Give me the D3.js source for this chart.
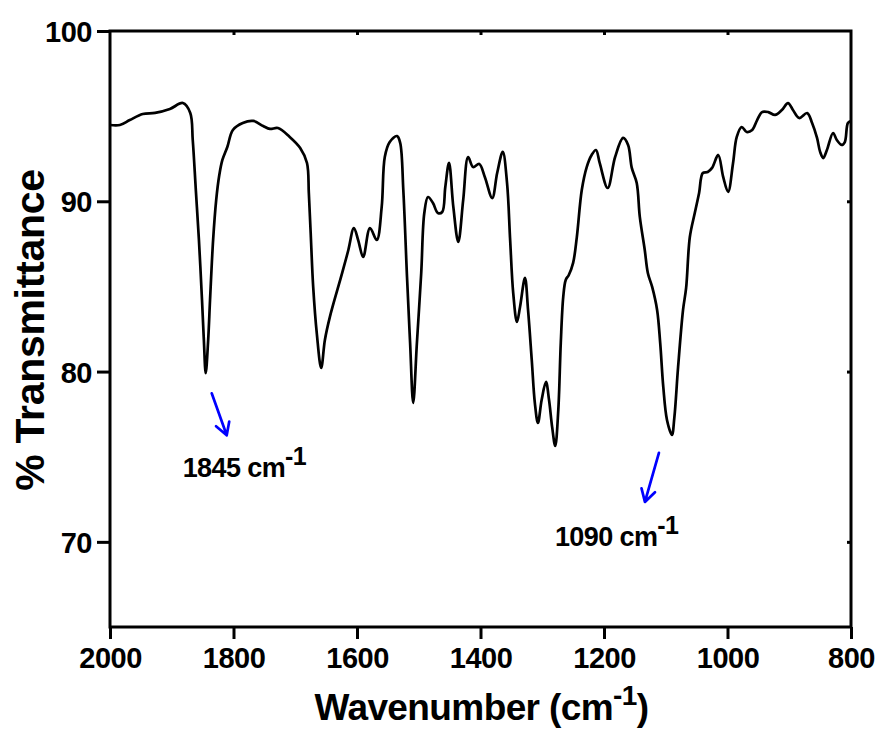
<!DOCTYPE html>
<html>
<head>
<meta charset="utf-8">
<script src="https://cdn.jsdelivr.net/npm/d3@7"></script>
<style>
  body { margin: 0; background: #fff; }
  text { font-family: "Liberation Sans", Arial, Helvetica, sans-serif; font-weight: bold; fill: #000; }
</style>
</head>
<body>
<svg id="chart" width="881" height="730"></svg>
<script>
// FTIR spectrum: wavenumber (cm-1) and % transmittance
const wavenumber = [
  2000, 1984, 1968, 1947, 1927, 1903, 1882, 1870, 1866, 1861, 1856, 1851, 1848, 1845, 1841, 1838,
  1833, 1828, 1823, 1818, 1810, 1801, 1785, 1768, 1752, 1741, 1728, 1709, 1692, 1681, 1678, 1675, 1671,
  1665, 1658, 1652, 1644, 1624, 1614, 1605, 1598, 1590, 1579, 1568, 1560, 1555, 1547, 1535, 1530,
  1525, 1519, 1514, 1509, 1503, 1496, 1491, 1485, 1477, 1469, 1462, 1457, 1451, 1444, 1436, 1428,
  1420, 1412, 1402, 1393, 1381, 1373, 1364, 1357, 1352, 1347, 1341, 1336, 1328, 1323, 1317, 1312,
  1307, 1301, 1294, 1289, 1284, 1279, 1274, 1270, 1266, 1262, 1257, 1250, 1244, 1236, 1228, 1220,
  1213, 1207, 1194, 1182, 1169, 1161, 1155, 1147, 1142, 1134, 1129, 1122, 1114, 1109, 1104, 1098,
  1090, 1086, 1080, 1072, 1067, 1061, 1053, 1046, 1040, 1032, 1025, 1015, 1007, 999, 991, 985,
  977, 969, 960, 952, 944, 934, 923, 912, 902, 894, 884, 871, 863, 855, 850, 845,
  839, 829, 823, 815, 810, 805, 800
];
const transmittance = [
  94.48, 94.48, 94.77, 95.13, 95.19, 95.42, 95.77, 95.19, 93.6, 90.66, 87.73, 84.2, 81.86, 79.9, 81.86, 84.2,
  87.73, 90.08, 91.54, 92.43, 93.19, 94.19, 94.6, 94.72, 94.42, 94.25, 94.3, 93.78, 93.13, 92.25, 90.49, 88.14, 85.0,
  82.2, 80.21, 81.86, 83.2, 85.79, 87.14, 88.43, 87.7, 86.73, 88.43, 87.73, 89.67, 92.6, 93.48, 93.83, 93.42,
  90.66, 85.55, 81.68, 78.16, 81.68, 85.79, 89.31, 90.25, 89.9, 89.31, 89.37, 90.84, 92.25, 89.67, 87.61, 90.08,
  92.6, 92.01, 92.19, 91.43, 90.19, 91.66, 92.9, 91.07, 87.73, 84.6, 82.91, 83.79, 85.5, 83.62, 80.68, 78.16,
  76.98, 78.33, 79.39, 78.33, 76.75, 75.63, 77.75, 81.68, 84.38, 85.38, 85.67, 86.38, 87.9, 90.66, 92.01, 92.72,
  93.01, 92.25, 90.78, 92.6, 93.72, 93.31, 91.96, 91.07, 89.08, 87.14, 85.79, 84.97, 83.62, 81.68, 79.1, 77.16,
  76.28, 77.33, 80.27, 83.62, 84.91, 87.9, 89.31, 90.49, 91.66, 91.72, 91.96, 92.72, 91.43, 90.55, 92.25, 93.78,
  94.36, 94.07, 94.19, 94.77, 95.24, 95.24, 95.07, 95.36, 95.77, 95.36, 94.89, 95.18, 94.6, 93.72, 92.9, 92.54,
  93.01, 94.01, 93.6, 93.31, 93.48, 94.6, 94.72
];
const xTickValues = [2000, 1800, 1600, 1400, 1200, 1000, 800];
const yTickValues = [100, 90, 80, 70];
const peakPositions = [1845, 1090];
const peakLabels = ["1845", "1090"];

const svg = d3.select("#chart");
const plot = { left: 110, right: 851, top: 31, bottom: 627 };

const x = d3.scaleLinear().domain([2000, 800]).range([plot.left, plot.right]);
const y = d3.scaleLinear().domain([65, 100]).range([plot.bottom, plot.top]);

// spectrum trace
const points = wavenumber.map((w, i) => ({ w, t: transmittance[i] }));
const line = d3.line().x(d => x(d.w)).y(d => y(d.t)).curve(d3.curveCatmullRom.alpha(0.5));
svg.append("path")
  .datum(points)
  .attr("d", line)
  .attr("fill", "none")
  .attr("stroke", "#000")
  .attr("stroke-width", 2.7)
  .attr("stroke-linejoin", "round");

// axes
function styleAxis(g) {
  g.selectAll(".domain").remove();
  g.selectAll(".tick line").attr("stroke", "#000").attr("stroke-width", 3);
  g.selectAll(".tick text").style("font-size", "29px").style("font-family", "'Liberation Sans', Arial, sans-serif").style("font-weight", "bold").style("letter-spacing", "-0.5px");
}

svg.append("g")
  .attr("transform", `translate(0,${plot.bottom})`)
  .call(d3.axisBottom(x).tickValues(xTickValues).tickSize(12).tickPadding(8).tickFormat(d3.format("d")))
  .call(styleAxis)
  .selectAll(".tick text").attr("dy", "0.71em").attr("y", 20);

svg.append("g")
  .attr("transform", `translate(${plot.left},0)`)
  .call(d3.axisLeft(y).tickValues(yTickValues).tickSize(13).tickPadding(5).tickFormat(d3.format("d")))
  .call(styleAxis)
  .selectAll(".tick text").attr("dy", "0.36em");

// small inward ticks on top and right edges
svg.append("g")
  .attr("transform", `translate(0,${plot.top})`)
  .call(d3.axisTop(x).tickValues(xTickValues.slice(1, -1)).tickSize(-4).tickFormat(""))
  .call(styleAxis);
svg.append("g")
  .attr("transform", `translate(${plot.right},0)`)
  .call(d3.axisRight(y).tickValues(yTickValues.slice(1)).tickSize(-4).tickFormat(""))
  .call(styleAxis);

// frame
svg.append("rect")
  .attr("x", plot.left).attr("y", plot.top)
  .attr("width", plot.right - plot.left).attr("height", plot.bottom - plot.top)
  .attr("fill", "none").attr("stroke", "#000").attr("stroke-width", 3);

// axis titles
const xTitle = svg.append("text")
  .attr("x", (plot.left + plot.right) / 2 + 1)
  .attr("y", 720)
  .attr("text-anchor", "middle")
  .style("font-size", "37px")
  .style("letter-spacing", "-0.6px");
xTitle.append("tspan").text("Wavenumber (cm");
xTitle.append("tspan").attr("dy", -15).style("font-size", "28px").text("-1");
xTitle.append("tspan").attr("dy", 15).text(")");

svg.append("text")
  .attr("transform", `translate(44,${(plot.top + plot.bottom) / 2 + 1}) rotate(-90)`)
  .attr("text-anchor", "middle")
  .style("font-size", "41px")
  .style("letter-spacing", "-0.3px")
  .text("% Transmittance");

// peak annotations: arrow + label, placed relative to each band minimum
const annotLayout = [
  { arrow: [[6, 20], [21, 62]], text: [-23, 104] },
  { arrow: [[-13, 18], [-27, 67]], text: [-117, 111] }
];
peakPositions.forEach((wn, i) => {
  const idx = wavenumber.indexOf(wn);
  const px = x(wn), py = y(transmittance[idx]);
  const L = annotLayout[i];
  const x0 = px + L.arrow[0][0], y0 = py + L.arrow[0][1];
  const x1 = px + L.arrow[1][0], y1 = py + L.arrow[1][1];
  const ang = Math.atan2(y1 - y0, x1 - x0);
  const head = 14, spread = Math.PI / 6;
  const hx1 = x1 - head * Math.cos(ang - spread), hy1 = y1 - head * Math.sin(ang - spread);
  const hx2 = x1 - head * Math.cos(ang + spread), hy2 = y1 - head * Math.sin(ang + spread);
  svg.append("path")
    .attr("d", `M${x0},${y0}L${x1},${y1}M${hx1},${hy1}L${x1},${y1}L${hx2},${hy2}`)
    .attr("fill", "none")
    .attr("stroke", "#0000ff")
    .attr("stroke-width", 2.7)
    .attr("stroke-linecap", "round")
    .attr("stroke-linejoin", "round");
  const t = svg.append("text")
    .attr("x", px + L.text[0])
    .attr("y", py + L.text[1])
    .style("font-size", "27px")
    .style("letter-spacing", "-0.6px");
  t.append("tspan").text(peakLabels[i] + " cm");
  t.append("tspan").attr("dy", -12).style("font-size", "25px").text("-1");
});
</script>
</body>
</html>
